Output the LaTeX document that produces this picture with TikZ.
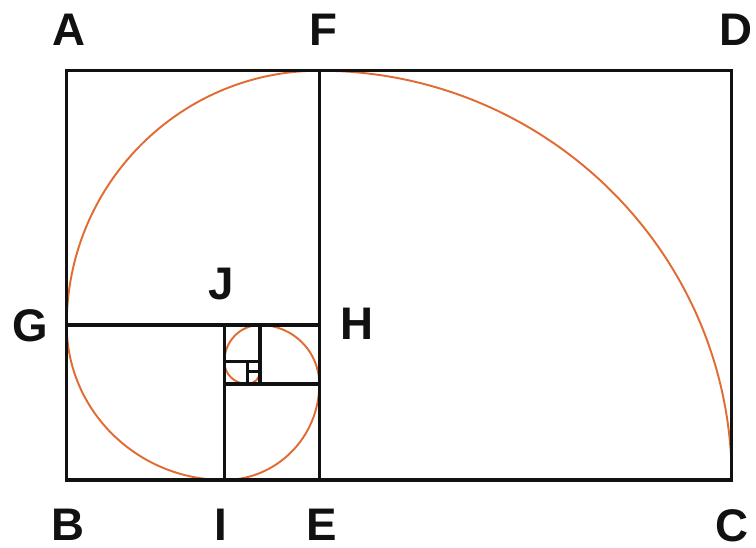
\documentclass[tikz,border=0pt]{standalone}
\usepackage{fontspec}
\setmainfont{Liberation Sans}
\usepackage{tikz}
\definecolor{frame}{HTML}{111111}
\definecolor{spiral}{HTML}{E06C34}

\begin{document}
\begin{tikzpicture}[
    x=0.02cm, y=0.02cm,
    edge/.style={draw=frame, line width=1.9pt, line cap=rect},
    curve/.style={draw=spiral, line width=1.1pt},
    letter/.style={font=\bfseries\fontsize{26}{26}\selectfont, inner sep=0pt, text=frame}
]
\useasboundingbox (0,0) rectangle (756,547);

% corners of the squares
\coordinate (A) at (66.7,476.3);
\coordinate (B) at (66.7,67);
\coordinate (C) at (731.7,67);
\coordinate (D) at (731.7,476.3);
\coordinate (F) at (319.3,476.3);
\coordinate (E) at (319.3,67);
\coordinate (G) at (66.7,222);
\coordinate (H) at (319.3,222);
\coordinate (J) at (224.3,222);
\coordinate (I) at (224.3,67);
\coordinate (k1) at (224.3,163);
\coordinate (k2) at (319.3,163);
\coordinate (m1) at (260,222);
\coordinate (m2) at (260,163);
\coordinate (n1) at (224.3,185.3);
\coordinate (n2) at (260,185.3);
\coordinate (p1) at (247.3,185.3);
\coordinate (p2) at (247.3,163);
\coordinate (q1) at (247.3,175.7);
\coordinate (q2) at (260,175.7);

% spiral
\draw[curve] (F) arc[start angle=90, end angle=0, x radius=412.4, y radius=409.3];
\draw[curve] (F) arc[start angle=90, end angle=180, x radius=252.6, y radius=254.3];
\draw[curve] (G) arc[start angle=180, end angle=270, x radius=157.6, y radius=155];
\draw[curve] (I) arc[start angle=270, end angle=360, x radius=95, y radius=96];
\draw[curve] (k2) arc[start angle=0, end angle=90, x radius=59.3, y radius=59];
\draw[curve] (m1) arc[start angle=90, end angle=180, x radius=35.7, y radius=36.7];
\draw[curve] (n1) arc[start angle=180, end angle=270, x radius=23, y radius=22.3];
\draw[curve] (p2) arc[start angle=270, end angle=360, radius=12.7];

% squares
\draw[edge] (A) rectangle (C);
\draw[edge] (F) -- (E);
\draw[edge] (G) -- (H);
\draw[edge] (J) -- (I);
\draw[edge] (k1) -- (k2);
\draw[edge] (m1) -- (m2);
\draw[edge] (n1) -- (n2);
\draw[edge] (p1) -- (p2);
\draw[edge] (q1) -- (q2);

% labels
\node[letter] (lA) at (69,517.5) {A};
\node[letter] (lF) at (323,517.5) {F};
\node[letter] (lD) at (736,517) {D};
\node[letter] (lG) at (30,221) {G};
\node[letter] (lJ) at (221,263) {J};
\node[letter] (lH) at (357,223) {H};
\node[letter] (lB) at (68,22) {B};
\node[letter] (lI) at (221,22) {I};
\node[letter] (lE) at (322,22) {E};
\node[letter] (lC) at (732,21) {C};
\end{tikzpicture}
\end{document}
